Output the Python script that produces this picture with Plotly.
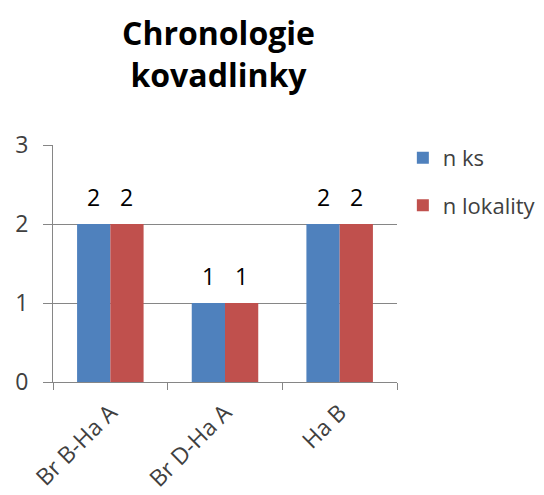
import plotly.graph_objects as go

categories = ["Br B-Ha A", "Br D-Ha A", "Ha B"]
n_ks = [2, 1, 2]
n_lokality = [2, 1, 2]
series_names = ["n ks", "n lokality"]
colors = ["#4F81BD", "#C0504D"]
title_lines = ["Chronologie", "kovadlinky"]

font_family = "'Open Sans', Lato, sans-serif"

fig = go.Figure()
for name, vals, col, grp in zip(series_names, [n_ks, n_lokality], colors, ["a", "b"]):
    fig.add_trace(go.Bar(
        x=categories, y=vals, name=name, marker_color=col,
        marker_line_width=0, legendgroup=grp,
    ))

# data labels above the bars
for i, (vals, shift) in enumerate(zip([n_ks, n_lokality], [-16.5, 16.5])):
    for c, v in zip(categories, vals):
        fig.add_annotation(x=c, y=v, xref="x", yref="y", text=str(v),
                           showarrow=False, xshift=shift, yshift=27,
                           font=dict(size=23, color="#000000", family=font_family))

fig.add_annotation(text="<b>" + "<br>".join(title_lines) + "</b>",
                   xref="paper", yref="paper", x=0.48, y=1.385,
                   xanchor="center", yanchor="middle", showarrow=False,
                   font=dict(size=32, color="#000000", family=font_family))

fig.update_layout(
    width=544, height=495,
    paper_bgcolor="white", plot_bgcolor="white",
    margin=dict(l=53, r=147, t=145, b=113, autoexpand=False),
    barmode="group", bargap=0.42, bargroupgap=0,
    font=dict(family=font_family, color="#404040"),
    showlegend=True,
    legend=dict(x=1.017, y=1.034, xanchor="left", yanchor="top",
                font=dict(size=22, color="#404040"),
                tracegroupgap=16, traceorder="grouped",
                itemwidth=30),
)
fig.update_yaxes(range=[0, 3], dtick=1, showgrid=True, gridcolor="#868686", gridwidth=1,
                 ticks="outside", ticklen=9, tickcolor="#868686",
                 showline=True, linecolor="#868686", zeroline=False,
                 tickfont=dict(size=23, color="#404040"), ticklabelstandoff=10)
fig.update_xaxes(tickangle=-45, ticks="outside", tickson="boundaries", ticklen=7,
                 tickcolor="#868686", showline=True, linecolor="#868686",
                 tickfont=dict(size=23, color="#404040"), ticklabelstandoff=7)

fig.write_html("out.html")
